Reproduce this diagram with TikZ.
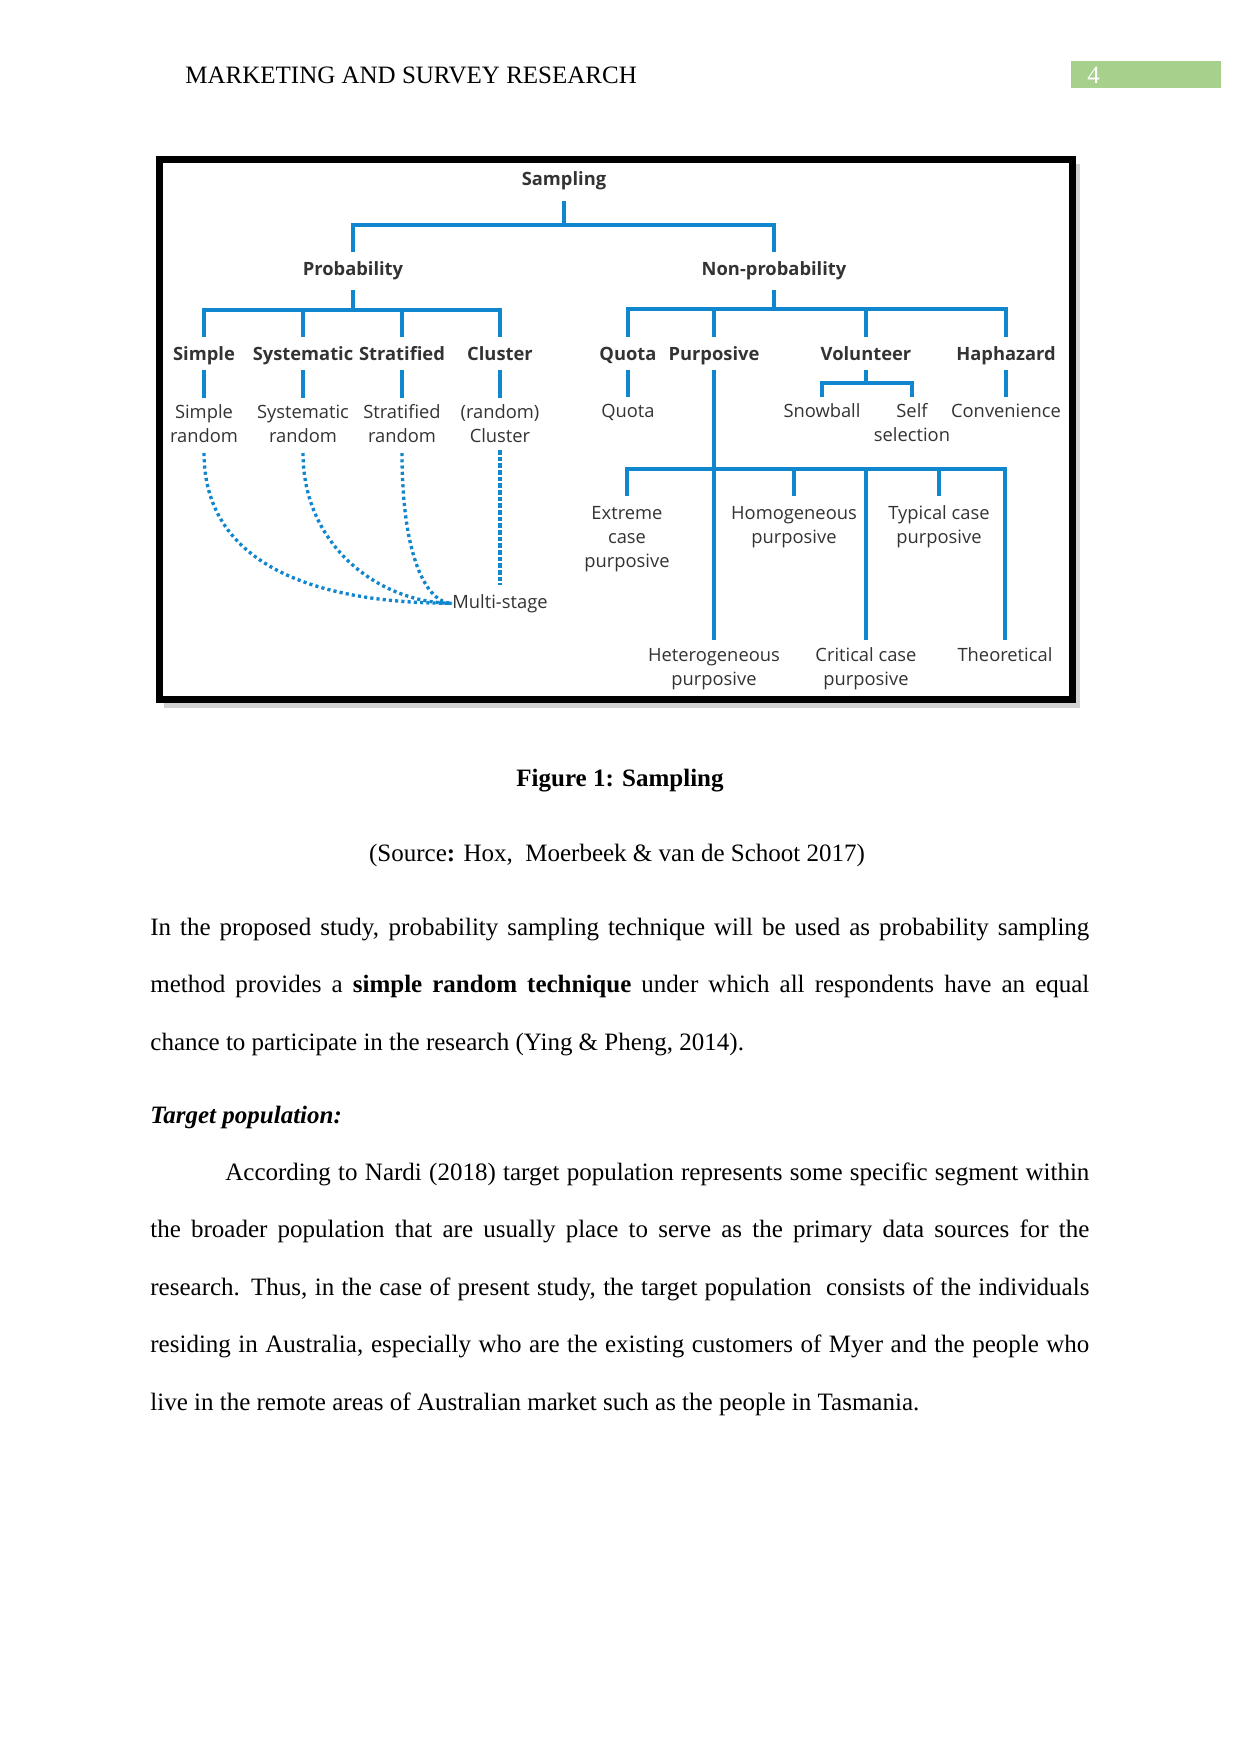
\documentclass[tikz,border=0pt]{standalone}
\usepackage{fontspec}
\setmainfont{Liberation Serif}
\newfontfamily\figsf{Open Sans}
\usetikzlibrary{calc}
\definecolor{treeblue}{RGB}{16,134,206}
\definecolor{txtgray}{RGB}{51,51,51}
\definecolor{pagegreen}{RGB}{168,208,141}

\begin{document}
\begin{tikzpicture}[x=0.48pt,y=-0.48pt,
  lbl/.style={font=\figsf\fontsize{8.8}{11.5}\selectfont,text=txtgray,align=center,inner sep=0pt,anchor=base},
  hd/.style={lbl,font=\figsf\bfseries\fontsize{8.8}{11.5}\selectfont},
  br/.style={draw=treeblue,line width=2pt},
  dotb/.style={draw=treeblue,line width=1.6pt,dash pattern=on 1.5pt off 1.5pt},
  dashb/.style={draw=treeblue,line width=2pt,dash pattern=on 2.2pt off 1pt},
  body/.style={font=\fontsize{12}{27.6}\selectfont,inner sep=0pt,anchor=base west,text width=450.7pt,align=justify}]
  \useasboundingbox (0,0) rectangle (1241,1754);
  % running head
  \node[anchor=base west,inner sep=0pt,font=\fontsize{12}{14}\selectfont] (head) at (185,83) {MARKETING AND SURVEY RESEARCH};
  \fill[pagegreen] (1071,61) rectangle (1221,88);
  \node[anchor=base west,inner sep=0pt,text=white,font=\fontsize{12}{14}\selectfont] (pnum) at (1087,83) {4};
  % figure frame
  \fill[gray!35] (164,164) rectangle (1080,708);
  \filldraw[fill=white,draw=black,line width=3.4pt] (159.5,159.5) rectangle (1072.5,699.5);
  % tree labels (multi-line ones sit on their last line)
  \node[hd] (samp) at (564,185) {Sampling};
  \node[hd] (prob) at (353,275) {Probability};
  \node[hd] (nonp) at (774,275) {Non-probability};
  \node[hd] (simp) at (204,360) {Simple};
  \node[hd] (syst) at (303,360) {Systematic};
  \node[hd] (strat) at (402,360) {Stratified};
  \node[hd] (clus) at (500,360) {Cluster};
  \node[hd] (quo) at (628,360) {Quota};
  \node[hd] (purp) at (714,360) {Purposive};
  \node[hd] (vol) at (866,360) {Volunteer};
  \node[hd] (hap) at (1006,360) {Haphazard};
  \node[lbl] (srand) at (204,442) {Simple\\random};
  \node[lbl] (sysr) at (303,442) {Systematic\\random};
  \node[lbl] (strr) at (402,442) {Stratified\\random};
  \node[lbl] (clr) at (500,442) {(random)\\Cluster};
  \node[lbl] (quo2) at (628,417) {Quota};
  \node[lbl] (snow) at (822,417) {Snowball};
  \node[lbl] (self) at (912,441) {Self\\selection};
  \node[lbl] (conv) at (1006,417) {Convenience};
  \node[lbl] (ext) at (627,567) {Extreme\\case\\purposive};
  \node[lbl] (hom) at (794,543) {Homogeneous\\purposive};
  \node[lbl] (typ) at (939,543) {Typical case\\purposive};
  \node[lbl] (het) at (714,685) {Heterogeneous\\purposive};
  \node[lbl] (crit) at (866,685) {Critical case\\purposive};
  \node[lbl] (theo) at (1005,661) {Theoretical};
  \node[lbl,anchor=base west] (multi) at (452,608) {Multi-stage};
  % connectors
  \draw[br] (samp.base) ++(0,16) -- ++(0,24) coordinate (j0);
  \draw[br] ($(prob.base)+(0,-23)$) |- (j0);
  \draw[br] ($(nonp.base)+(0,-23)$) |- (j0);
  \draw[br] (prob.base) ++(0,15) -- ++(0,20) coordinate (j1);
  \foreach \c in {simp,syst,strat,clus}
    \draw[br] ($(\c.base)+(0,-23)$) |- (j1);
  \draw[br] (nonp.base) ++(0,15) -- ++(0,19) coordinate (j2);
  \foreach \c in {quo,purp,vol,hap}
    \draw[br] ($(\c.base)+(0,-23)$) |- (j2);
  \foreach \a/\b/\d in {simp/srand/44,syst/sysr/44,strat/strr/44,clus/clr/44,quo/quo2/20,hap/conv/20}
    \draw[br] ($(\a.base)+(0,10)$) -- ($(\b.base)+(0,-\d)$);
  \draw[br] (vol.base) ++(0,10) -- ++(0,13) coordinate (j4);
  \foreach \c/\d in {snow/20,self/44}
    \draw[br] ($(\c.base)+(0,-\d)$) |- (j4);
  \draw[br] ($(purp.base)+(0,10)$) -- ($(het.base)+(0,-45)$);
  \path (purp.base) ++(0,109) coordinate (j3);
  \foreach \c/\d in {ext/71,hom/47,typ/47,crit/45,theo/21}
    \draw[br] ($(\c.base)+(0,-\d)$) |- (j3);
  % multi-stage links
  \draw[dotb] (srand.base) ++(0,11) .. controls +(0,110) and +(-140,0) .. (multi.west);
  \draw[dotb] (sysr.base) ++(0,11) .. controls +(0,95) and +(-70,0) .. (multi.west);
  \draw[dotb] (strr.base) ++(0,11) .. controls +(0,105) and +(-25,0) .. (multi.west);
  \draw[dashb] (clr.base) ++(0,8) -- ([yshift=4pt]multi.north -| clr.base);
  % caption and text
  \node[anchor=base,inner sep=0pt,font=\fontsize{12}{14}\selectfont\bfseries] (cap) at (620,786) {Figure 1: Sampling};
  \node[anchor=base,inner sep=0pt,font=\fontsize{12}{14}\selectfont] (src) at (617,861) {(Source\textbf{:} Hox,\ \ Moerbeek \& van de Schoot 2017)};
  \node[body] (par1) at (150,935) {In the proposed study, probability sampling technique will be used as probability sampling\linebreak method provides a \textbf{simple random technique} under which all respondents have an equal\linebreak chance to participate in the research (Ying \& Pheng, 2014).};
  \node[anchor=base west,inner sep=0pt,font=\fontsize{12}{14}\selectfont\bfseries\itshape] (tpop) at (150,1123) {Target population:};
  \node[body] (par2) at (150,1180) {\hspace*{36pt}According to Nardi (2018) target population represents some specific segment within\linebreak the broader population that are usually place to serve as the primary data sources for the\linebreak research. Thus, in the case of present study, the target population\ \ consists of the individuals\linebreak residing in Australia, especially who are the existing customers of Myer and the people who\linebreak live in the remote areas of Australian market such as the people in Tasmania.};
\end{tikzpicture}
\end{document}
